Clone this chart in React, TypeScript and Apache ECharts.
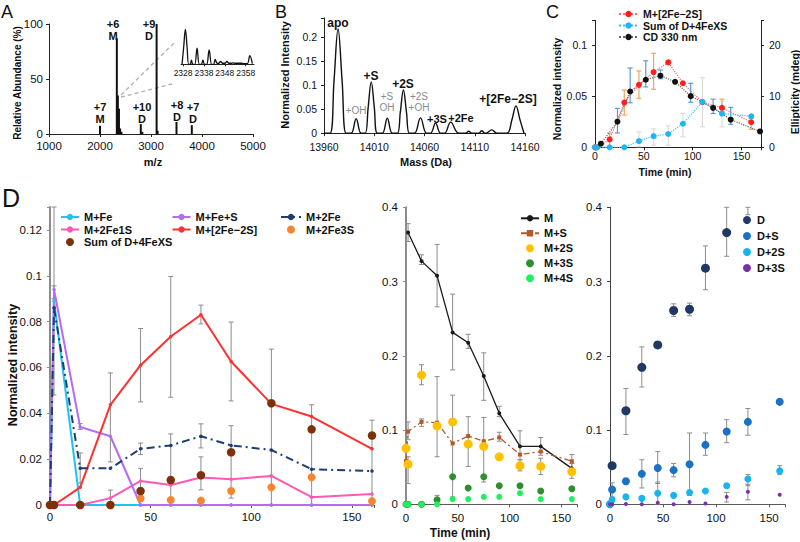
import React, { useEffect, useRef } from "react";
import * as echarts from "echarts";

const FONT = '"Liberation Sans", Arial, Helvetica, sans-serif';

// ---------- Panel A: ESI-MS spectrum ----------
const peaksA: [number, number][] = [
  [2000, 7.5], [2330, 87], [2350, 35], [2372, 23], [2395, 5], [2420, 2],
  [2800, 9], [2830, 2], [3110, 100], [3130, 3], [3500, 11], [3800, 8],
];
const insetA: [number, number][] = [
  [2327.5, 0], [2328.3, 50], [2329.1, 100], [2329.9, 50], [2330.7, 0], [2331.4, 0], [2332, 12], [2332.7, 0],
  [2333.6, 0], [2334.7, 46], [2335.8, 0], [2336.8, 0], [2337.5, 12], [2338.3, 0], [2339.3, 0], [2340.5, 41],
  [2341.7, 0], [2342.6, 0], [2343.4, 14], [2344.3, 3], [2345, 3], [2346, 8], [2347, 3], [2348, 3], [2349, 8],
  [2350, 3], [2351, 3], [2352, 4], [2353, 3], [2356, 3], [2357, 2], [2358.8, 2], [2360, 25], [2361.2, 2],
];
const insetTicks = [2328, 2338, 2348, 2358];

// ---------- Panel B: deconvoluted mass spectrum ----------
const spectrumB: [number, number][] = [
  [13960, 0], [13966, 0], [13970, 0.11], [13974, 0.217], [13978, 0.11], [13982, 0],
  [13987, 0], [13992, 0.03], [13997, 0],
  [14001, 0], [14004, 0.055], [14007, 0.107], [14010, 0.055], [14013, 0],
  [14018, 0], [14023, 0.031], [14028, 0],
  [14033, 0], [14036, 0.045], [14039, 0.09], [14042, 0.045], [14045, 0],
  [14050, 0], [14056, 0.032], [14062, 0],
  [14066, 0], [14071, 0.021], [14076, 0],
  [14080, 0], [14086, 0.023], [14094, 0],
  [14101, 0], [14104, 0.004], [14107, 0],
  [14114, 0], [14117, 0.005], [14120, 0],
  [14121, 0], [14127, 0.007], [14132, 0],
  [14142, 0], [14147, 0.028], [14151, 0.057], [14155, 0.028], [14159, 0],
];

// ---------- Time course (panels C, D) ----------
const times = [0, 2, 15, 30, 45, 60, 75, 90, 110, 130, 160];
const mFe = [0, 0.089, 0, 0, 0, 0, 0, 0, 0, 0, 0];
const mFeS = [0, 0.094, 0.034, 0.03, 0, 0, 0, 0, 0, 0, 0];
const m2Fe = [0, 0.086, 0.016, 0.016, 0.0245, 0.026, 0.03, 0.026, 0.024, 0.0156, 0.0148];
const m2Fe1S = [0, 0, 0, 0.003, 0.0105, 0.0087, 0.012, 0.0112, 0.0127, 0.0034, 0.0048];
const m2Fe2S = [0, 0, 0.0077, 0.0437, 0.061, 0.0735, 0.083, 0.0626, 0.0441, 0.0386, 0.0245];
const m2Fe3S = [0, 0, 0, 0, 0.0029, 0.0022, 0.0019, 0.0061, 0.0077, 0.0121, 0.0017];
const sumD4FeXS = [0, 0, 0, 0, 0.0061, 0.0109, 0.013, 0.023, 0.0444, 0.033, 0.0303];

const mM = [null, 0.366, 0.3275, 0.3077, 0.2315, 0.2175, 0.1727, 0.1225, 0.078, 0.078, 0.0484];
const mS = [0.058, 0.098, 0.111, 0.11, 0.082, 0.092, 0.085, 0.09, 0.067, 0.071, 0.058];
const m2S = [0.0754, 0.054, 0.174, 0.1055, 0.111, 0.081, 0.078, 0.064, 0.052, 0.051, 0.044];
const m3S = [0, 0, 0, 0.006, 0.037, 0.022, 0.037, 0.025, 0.025, 0.018, 0.021];
const m4S = [0, 0, 0, 0, 0.007, 0.007, 0.01, 0.01, 0.015, 0.007, 0.007];

const dD = [null, 0.052, 0.126, 0.1845, 0.2146, 0.261, 0.2627, 0.318, 0.366, 0.42, null];
const dS = [0, 0.02, 0.031, 0.041, 0.049, 0.046, 0.054, 0.08, 0.098, 0.111, 0.138];
const d2S = [0, 0.006, 0.01, 0.008, 0.015, 0.012, 0.016, 0.018, 0.025, 0.034, 0.045];
const d3S = [0, 0, 0.0005, 0, 0.002, 0, 0.003, 0.001, 0.01, 0.017, 0.013];

const cdTimes = [6, 23, 36, 52, 67, 82, 98, 121, 139, 169];
const cd330 = [0.7, 5.0, 10.9, 13.2, 14.0, 12.8, 10.0, 7.7, 5.4, 3.1];

// error bars: [time, low, high]
const errCred = [[15, 0.0006, 0.0137], [30, 0.0315, 0.056], [45, 0.0479, 0.0746], [60, 0.0567, 0.0919], [75, 0.0814, 0.0846], [130, 0.035, 0.047], [160, 0.0176, 0.028]];
const errCsum = [[45, 0.0006, 0.0152], [60, 0.002, 0.018], [75, 0.002, 0.021], [90, 0.0103, 0.033], [110, 0.02, 0.068], [130, 0.02, 0.045]];
const errCcd = [[23, 2.8, 7.6], [36, 8.7, 15.5], [52, 11.8, 16.9], [67, 13.4, 15.1], [98, 8.8, 12.5], [121, 6.6, 9.4], [139, 4.5, 7.8]];
const errDL = [
  [2, 0.048, 0.13], [2, 0.09, 0.0956], [15, 0.0096, 0.0227], [15, 0.033, 0.0355], [30, 0.0188, 0.0576], [30, 0, 0.0065],
  [45, 0.045, 0.077], [45, 0.022, 0.027], [45, 0.0015, 0.016], [60, 0.047, 0.0997], [60, 0.0015, 0.031],
  [75, 0.079, 0.0872], [75, 0.0249, 0.0354], [75, 0.0066, 0.021], [90, 0.0454, 0.0798], [90, 0.003, 0.0346],
  [110, 0, 0.068], [130, 0, 0.0437], [160, 0.001, 0.037],
];
const errDM = [
  [2, 0.354, 0.378], [15, 0.323, 0.336], [30, 0.266, 0.35], [45, 0.181, 0.283], [60, 0.21, 0.229], [75, 0.14, 0.204],
  [90, 0.118, 0.132], [110, 0.06, 0.099], [130, 0.066, 0.09], [160, 0.042, 0.055],
  [2, 0.028, 0.064], [2, 0.087, 0.111], [15, 0.161, 0.188], [15, 0.105, 0.115], [30, 0.064, 0.172], [30, 0.001, 0.012],
  [45, 0.01, 0.147], [60, 0.051, 0.118], [75, 0.03, 0.117], [90, 0.085, 0.097], [110, 0.045, 0.06], [130, 0.04, 0.062], [160, 0.035, 0.067],
];
const errDR = [
  [15, 0.094, 0.156], [30, 0.158, 0.212], [45, 0.212, 0.219], [60, 0.253, 0.27], [75, 0.254, 0.271], [90, 0.289, 0.348], [110, 0.334, 0.4], [130, 0.39, 0.4],
  [2, 0.01, 0.029], [15, 0.027, 0.035], [30, 0.022, 0.06], [45, 0.028, 0.071], [60, 0.037, 0.055], [75, 0.012, 0.096], [90, 0.066, 0.096], [110, 0.083, 0.114], [130, 0.093, 0.129],
  [45, 0, 0.03], [130, 0.025, 0.04], [160, 0.04, 0.052], [110, 0.003, 0.016], [130, 0.006, 0.027],
];

const zip = (t: number[], v: (number | null)[]) => t.map((x, i) => [x, v[i]]);

const fmt = (step: number) => (v: number) => {
  const r = v / step;
  return Math.abs(r - Math.round(r)) < 1e-6 ? String(parseFloat(v.toFixed(4))) : "";
};

function errorBars(name: string, xi: number, yi: number, data: number[][], color: string, cap = 2.5, width = 1) {
  return {
    type: "custom", name, xAxisIndex: xi, yAxisIndex: yi, data, z: 1, silent: true,
    encode: { x: 0, y: [1, 2] },
    renderItem: (_p: any, api: any) => {
      const x = api.value(0);
      const lo = api.coord([x, api.value(1)]);
      const hi = api.coord([x, api.value(2)]);
      const style = { stroke: color, lineWidth: width, fill: "none" };
      return {
        type: "group",
        children: [
          { type: "line", shape: { x1: lo[0], y1: lo[1], x2: hi[0], y2: hi[1] }, style },
          { type: "line", shape: { x1: lo[0] - cap, y1: lo[1], x2: lo[0] + cap, y2: lo[1] }, style },
          { type: "line", shape: { x1: hi[0] - cap, y1: hi[1], x2: hi[0] + cap, y2: hi[1] }, style },
        ],
      };
    },
  };
}

function axis(gridIndex: number, min: number, max: number, interval: number | undefined, o: any = {}) {
  const color = o.color || "#222";
  return {
    type: "value", gridIndex, min, max, interval,
    position: o.position,
    axisLine: { show: true, onZero: false, lineStyle: { color, width: o.width || 1 } },
    axisTick: { show: true, length: 3, lineStyle: { color } },
    splitLine: { show: false },
    axisLabel: {
      fontSize: o.fontSize || 11, color: "#111", fontFamily: FONT, margin: o.margin ?? 6,
      formatter: o.plain ? (v: number) => String(v) : interval ? fmt(interval) : undefined,
    },
  };
}

function txt(text: string, x: number, y: number, size: number, o: any = {}) {
  return {
    type: "text", x, y, rotation: o.rot || 0, silent: true,
    style: {
      text, fontSize: size, fontWeight: o.bold ? "bold" : "normal", fontFamily: FONT,
      fill: o.color || "#111", align: o.align || "center", verticalAlign: "middle", lineHeight: o.lh,
    },
  };
}

const lineS = (name: string, xi: number, yi: number, data: any[], color: string, o: any = {}) => ({
  type: "line", name, xAxisIndex: xi, yAxisIndex: yi, data,
  symbol: o.symbol || "circle", symbolSize: o.size ?? 4, showSymbol: true,
  itemStyle: { color: o.markerColor || color },
  lineStyle: { color, width: o.width ?? 2, type: o.type || "solid" },
  z: o.z ?? 3,
});
const scat = (name: string, xi: number, yi: number, data: any[], color: string, size: number) => ({
  type: "scatter", name, xAxisIndex: xi, yAxisIndex: yi, data, symbolSize: size,
  itemStyle: { color, opacity: 1 }, z: 4,
});

const legendBase = (o: any) => ({
  orient: "vertical", padding: 0, selectedMode: false, itemHeight: 8,
  textStyle: { fontSize: 11, fontWeight: "bold", fontFamily: FONT, color: "#111" },
  ...o,
});

export default function App() {
  const ref = useRef<HTMLDivElement>(null);
  useEffect(() => {
    if (!ref.current) return;
    const chart = echarts.init(ref.current, undefined, { renderer: "svg" });
    const option: any = {
      animation: false,
      backgroundColor: "#fff",
      textStyle: { fontFamily: FONT },
      grid: [
        { left: 49, top: 24, width: 204, height: 110 },
        { left: 181, top: 29.3, width: 73, height: 35 },
        { left: 324, top: 18, width: 201, height: 115.2 },
        { left: 595, top: 20.4, width: 166, height: 126.9 },
        { left: 50, top: 207, width: 324, height: 298 },
        { left: 406, top: 207.3, width: 171, height: 297 },
        { left: 610, top: 207.3, width: 175, height: 297 },
      ],
      xAxis: [
        axis(0, 1000, 5000, 1000, { fontSize: 11.5, margin: 6 }),
        {
          type: "value", gridIndex: 1, min: 2327, max: 2362,
          axisLine: { show: true, lineStyle: { color: "#222" } },
          axisTick: { show: true, length: 2, customValues: insetTicks },
          splitLine: { show: false },
          axisLabel: {
            customValues: insetTicks, interval: 0, hideOverlap: false, fontSize: 8.5, color: "#111", margin: 4, fontFamily: FONT,
            formatter: (v: number) => String(v),
          },
        },
        axis(2, 13960, 14160, 50, { fontSize: 10.5, margin: 8, plain: true }),
        axis(3, 0, 170, 50, { fontSize: 10.5, margin: 3 }),
        axis(4, 0, 161, 50, { fontSize: 11.5, margin: 6, color: "#595959" }),
        axis(5, 0, 165, 50, { fontSize: 11.5, margin: 8, color: "#595959" }),
        axis(6, 0, 165, 50, { fontSize: 11.5, margin: 8, color: "#595959" }),
      ],
      yAxis: [
        axis(0, 0, 100, 50, { fontSize: 11.5, margin: 6 }),
        { type: "value", gridIndex: 1, min: 0, max: 100, show: false },
        axis(2, 0, 0.24, 0.05, { fontSize: 10.5, margin: 7 }),
        axis(3, 0, 0.124, 0.05, { fontSize: 10.5, margin: 8 }),
        axis(4, 0, 0.13, 0.02, { fontSize: 11.5, margin: 8, color: "#8c8c8c", width: 2 }),
        axis(5, 0, 0.4, 0.1, { fontSize: 11.5, margin: 8, color: "#8c8c8c", width: 2 }),
        axis(6, 0, 0.4, 0.1, { fontSize: 11.5, margin: 8, color: "#404040" }),
        axis(3, 0, 24.8, 10, { fontSize: 10.5, margin: 8, position: "right" }),
      ],
      legend: [
        legendBase({
          data: ["C: M+[2Fe−2S]", "C: Sum of D+4FeXS", "C: CD 330 nm"],
          formatter: (n: string) => n.replace("C: ", ""),
          left: 618, top: 8.5, itemWidth: 19, itemGap: 0.5,
          textStyle: { fontSize: 10.5, fontWeight: "bold", fontFamily: FONT, color: "#111" },
        }),
        legendBase({ data: ["M+Fe", "M+2Fe1S", "Sum of D+4FeXS"], left: 60, top: 211.5, itemWidth: 18, itemGap: 1.5 }),
        legendBase({ data: ["M+Fe+S", "M+[2Fe−2S]"], left: 171.5, top: 211.5, itemWidth: 18, itemGap: 1.5 }),
        legendBase({ data: ["M+2Fe", "M+2Fe3S"], left: 280, top: 211.5, itemWidth: 20, itemGap: 1.5 }),
        legendBase({ data: ["M", "M+S", "M+2S", "M+3S", "M+4S"], left: 520, top: 212.8, itemWidth: 18, itemGap: 4 }),
        legendBase({ data: ["D", "D+S", "D+2S", "D+3S"], left: 743, top: 214.5, itemWidth: 10, itemGap: 5 }),
      ],
      series: [
        // A
        { type: "bar", name: "specA", xAxisIndex: 0, yAxisIndex: 0, data: peaksA, barWidth: 2, itemStyle: { color: "#111" }, silent: true },
        { type: "line", name: "insetA", xAxisIndex: 1, yAxisIndex: 1, data: insetA, smooth: 0.4, symbol: "none", lineStyle: { color: "#111", width: 1.3 }, silent: true },
        // B
        { type: "line", name: "specB", xAxisIndex: 2, yAxisIndex: 2, data: spectrumB, smooth: 0.4, symbol: "none", lineStyle: { color: "#111", width: 1.4 }, silent: true },
        // C
        errorBars("errCsum", 3, 3, errCsum, "#dcdcdc", 2.5, 1.2),
        errorBars("errCred", 3, 3, errCred, "#f4a460", 2.5, 1.2),
        errorBars("errCcd", 3, 7, errCcd, "#5b9bd5", 2.5, 1.2),
        lineS("C: M+[2Fe−2S]", 3, 3, zip(times, m2Fe2S), "#ff6a6a", { markerColor: "#ff1f1f", size: 6, width: 1.2, type: "dotted" }),
        lineS("C: Sum of D+4FeXS", 3, 3, zip(times, sumD4FeXS), "#3cc0f5", { markerColor: "#1eb6f2", size: 6, width: 1.2, type: "dotted" }),
        lineS("C: CD 330 nm", 3, 7, zip(cdTimes, cd330), "#666", { markerColor: "#111", size: 6, width: 1.2, type: "dotted" }),
        // D left
        errorBars("errDL", 4, 4, errDL, "#8c8c8c", 2.5, 1),
        lineS("M+Fe", 4, 4, zip(times, mFe), "#1fc3f0", { size: 3.5 }),
        lineS("M+2Fe1S", 4, 4, zip(times, m2Fe1S), "#ff59b4", { size: 3.5 }),
        lineS("M+Fe+S", 4, 4, zip(times, mFeS), "#b56cf5", { size: 3.5 }),
        lineS("M+[2Fe−2S]", 4, 4, zip(times, m2Fe2S), "#ff3030", { size: 3.5 }),
        lineS("M+2Fe", 4, 4, zip(times, m2Fe), "#1f3c73", { size: 3.5, type: [8, 4, 2, 4] }),
        scat("M+2Fe3S", 4, 4, zip(times, m2Fe3S), "#f5862f", 8),
        scat("Sum of D+4FeXS", 4, 4, zip(times, sumD4FeXS), "#7b3208", 8.5),
        // D middle
        errorBars("errDM", 5, 5, errDM, "#8c8c8c", 2.5, 1),
        lineS("M", 5, 5, zip(times, mM), "#1a1a1a", { size: 4, width: 1.3 }),
        lineS("M+S", 5, 5, zip(times, mS), "#b5582a", { size: 4, width: 1.3, symbol: "rect", type: [6, 3, 2, 3] }),
        scat("M+2S", 5, 5, zip(times, m2S), "#ffc000", 9),
        scat("M+3S", 5, 5, zip(times, m3S), "#2f8f2f", 7),
        scat("M+4S", 5, 5, zip(times, m4S), "#1ef060", 6),
        // D right
        errorBars("errDR", 6, 6, errDR, "#8c8c8c", 2.5, 1),
        scat("D", 6, 6, zip(times, dD), "#1f3864", 9),
        scat("D+S", 6, 6, zip(times, dS), "#1a72c4", 8),
        scat("D+2S", 6, 6, zip(times, d2S), "#17b4f0", 7),
        scat("D+3S", 6, 6, zip(times, d3S), "#7b2fa8", 4),
      ],
      graphic: {
        elements: [
          txt("A", 1, 11.5, 18, { align: "left" }),
          txt("B", 275, 11.5, 18, { align: "left" }),
          txt("C", 546, 11.5, 18, { align: "left" }),
          txt("D", 2, 197.5, 25, { align: "left" }),
          // A
          txt("Relative Abundance (%)", 17, 83, 10, { bold: true, rot: Math.PI / 2 }),
          txt("m/z", 153, 162, 11, { bold: true }),
          txt("+7\nM", 100, 113, 11, { bold: true, lh: 12 }),
          txt("+6\nM", 113, 30, 11, { bold: true, lh: 12 }),
          txt("+10\nD", 142, 112.5, 11, { bold: true, lh: 12 }),
          txt("+9\nD", 149, 30, 11, { bold: true, lh: 12 }),
          txt("+8\nD", 177, 111, 11, { bold: true, lh: 12 }),
          txt("+7\nD", 193, 113, 11, { bold: true, lh: 12 }),
          { type: "line", silent: true, shape: { x1: 121, y1: 95, x2: 175, y2: 42 }, style: { stroke: "#b0b0b0", lineWidth: 1.3, lineDash: [4, 3] } },
          { type: "line", silent: true, shape: { x1: 121, y1: 97, x2: 172, y2: 84 }, style: { stroke: "#b0b0b0", lineWidth: 1.3, lineDash: [4, 3] } },
          // B
          txt("Normalized Intensity", 285, 75, 11, { bold: true, rot: Math.PI / 2 }),
          txt("Mass (Da)", 426, 162, 11, { bold: true }),
          txt("apo", 338, 23, 12, { bold: true }),
          txt("+S", 371, 76, 12, { bold: true }),
          txt("+2S", 403, 84, 12, { bold: true }),
          txt("+3S", 437, 119, 11, { bold: true }),
          txt("+2Fe", 461, 118, 11, { bold: true }),
          txt("+[2Fe−2S]", 508, 99, 12, { bold: true }),
          txt("+OH", 356, 110, 10, { color: "#8a8a8a" }),
          txt("+S\nOH", 387, 101.5, 10, { color: "#8a8a8a", lh: 11 }),
          txt("+2S\n+OH", 419, 101.5, 10, { color: "#8a8a8a", lh: 11 }),
          // C
          txt("Normalized intensity", 557, 89, 10.5, { bold: true, rot: Math.PI / 2 }),
          txt("Ellipticity (mdeg)", 795, 92, 10.5, { bold: true, rot: Math.PI / 2 }),
          txt("Time (min)", 665, 172, 10.5, { bold: true }),
          // D
          txt("Normalized intensity", 13, 365, 12.5, { bold: true, rot: Math.PI / 2 }),
          txt("Time (min)", 460, 533, 12, { bold: true }),
        ],
      },
    };
    chart.setOption(option);
    return () => chart.dispose();
  }, []);
  return <div ref={ref} style={{ position: "absolute", left: 0, top: 0, width: 800, height: 542 }} />;
}
